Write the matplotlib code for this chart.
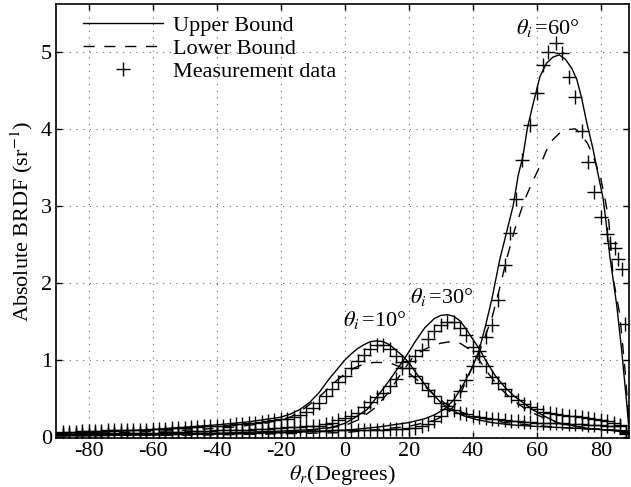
import matplotlib
matplotlib.use("Agg")
import matplotlib.pyplot as plt

plt.rcParams['font.family'] = ['Liberation Serif', 'DejaVu Serif']
plt.rcParams['mathtext.fontset'] = 'stix'
plt.rcParams['font.size'] = 16

# ---------------- theta_i = 10 deg ----------------
x_up10 = [-90, -80, -70, -60, -50, -40, -30, -25, -20, -17, -14, -11, -8, -5, -2, 0, 2, 4, 6, 8,
          10, 12, 14, 16, 18, 20, 22, 24, 26, 28, 30, 32, 34, 37, 41, 46, 52, 60, 70, 80, 86, 89]
y_up10 = [0.05, 0.06, 0.08, 0.10, 0.13, 0.16, 0.20, 0.23, 0.26, 0.30, 0.36, 0.45, 0.58, 0.75, 0.90, 1.00,
          1.08, 1.15, 1.20, 1.24, 1.25, 1.24, 1.20, 1.13, 1.06, 0.97, 0.85, 0.74, 0.63, 0.54, 0.45, 0.39,
          0.34, 0.28, 0.23, 0.19, 0.16, 0.14, 0.12, 0.10, 0.09, 0.07]
x_lo10 = [-90, -70, -50, -35, -25, -17, -12, -7, -3, 0, 3, 6, 9, 12, 15, 18, 21, 25, 28, 31, 35, 40,
          50, 60, 70, 80, 89]
y_lo10 = [0.04, 0.06, 0.09, 0.13, 0.18, 0.26, 0.39, 0.56, 0.72, 0.82, 0.90, 0.95, 0.97, 0.97, 0.95,
          0.90, 0.80, 0.66, 0.55, 0.45, 0.35, 0.27, 0.19, 0.15, 0.12, 0.10, 0.08]
x_ms10 = list(range(-88, 90, 2))
y_ms10 = [0.07, 0.07, 0.07, 0.08, 0.08, 0.08, 0.08, 0.09, 0.09, 0.09, 0.09, 0.10, 0.10, 0.10, 0.11,
          0.11, 0.11, 0.12, 0.12, 0.12, 0.13, 0.13, 0.14, 0.14, 0.15, 0.15, 0.16, 0.17, 0.17, 0.18,
          0.19, 0.20, 0.21, 0.22, 0.23, 0.24, 0.26, 0.29, 0.33, 0.38, 0.45, 0.53, 0.62, 0.72, 0.80,
          0.90, 0.99, 1.07, 1.14, 1.19, 1.19, 1.14, 1.06, 0.98, 0.90, 0.80, 0.70, 0.61, 0.53, 0.45,
          0.40, 0.35, 0.32, 0.30, 0.28, 0.26, 0.25, 0.24, 0.23, 0.22, 0.21, 0.21, 0.20, 0.20, 0.19,
          0.19, 0.18, 0.18, 0.18, 0.17, 0.17, 0.17, 0.16, 0.16, 0.16, 0.15, 0.15, 0.14, 0.04]

# ---------------- theta_i = 30 deg ----------------
x_up30 = [-90, -60, -40, -20, -10, -4, 0, 3, 7, 10, 14, 17, 19, 22, 25, 28, 30, 32, 34, 36, 38, 40,
          42, 44, 47, 50, 53, 56, 59, 63, 67, 75, 85, 89]
y_up30 = [0.03, 0.04, 0.05, 0.08, 0.10, 0.13, 0.18, 0.25, 0.36, 0.52, 0.74, 0.92, 1.04, 1.24, 1.42,
          1.54, 1.58, 1.59, 1.57, 1.51, 1.40, 1.27, 1.15, 1.00, 0.80, 0.65, 0.53, 0.44, 0.35, 0.26,
          0.18, 0.12, 0.08, 0.05]
x_lo30 = [-90, -60, -40, -20, -10, 0, 5, 10, 14, 18, 21, 24, 27, 30, 33, 36, 39, 42, 45, 48, 52,
          56, 60, 63, 67, 72, 80, 89]
y_lo30 = [0.02, 0.03, 0.04, 0.06, 0.09, 0.15, 0.24, 0.40, 0.60, 0.85, 1.02, 1.12, 1.18, 1.22, 1.24,
          1.22, 1.14, 1.00, 0.82, 0.66, 0.50, 0.38, 0.29, 0.24, 0.18, 0.14, 0.10, 0.07]
x_ms30 = list(range(-88, 90, 2))
y_ms30 = [0.04, 0.04, 0.04, 0.04, 0.04, 0.05, 0.05, 0.05, 0.05, 0.05, 0.05, 0.06, 0.06, 0.06, 0.06,
          0.06, 0.07, 0.07, 0.07, 0.07, 0.08, 0.08, 0.08, 0.08, 0.09, 0.09, 0.09, 0.10, 0.10, 0.10,
          0.11, 0.11, 0.11, 0.12, 0.12, 0.13, 0.13, 0.13, 0.14, 0.14, 0.15, 0.17, 0.19, 0.22, 0.25,
          0.28, 0.32, 0.39, 0.46, 0.52, 0.58, 0.67, 0.76, 0.90, 0.99, 1.06, 1.13, 1.28, 1.38, 1.45,
          1.50, 1.50, 1.42, 1.32, 1.17, 1.05, 0.92, 0.78, 0.70, 0.62, 0.53, 0.48, 0.43, 0.39, 0.36,
          0.33, 0.31, 0.30, 0.29, 0.28, 0.27, 0.26, 0.25, 0.24, 0.22, 0.21, 0.19, 0.16, 0.07]

# ---------------- theta_i = 60 deg ----------------
x_up60 = [-90, -60, -40, -20, 0, 10, 20, 25, 28, 31, 34, 37, 40, 42, 44, 46, 48.4, 50.5, 52.6, 54.2,
          55.7, 57, 59, 61, 63, 65, 67, 69, 71, 72.5, 74, 75.5, 77.5, 79.2, 80.7, 81.6, 82.8, 84,
          85, 86.5, 88, 88.8]
y_up60 = [0.02, 0.03, 0.04, 0.06, 0.09, 0.13, 0.19, 0.24, 0.29, 0.36, 0.48, 0.68, 0.92, 1.13, 1.45,
          1.80, 2.30, 2.65, 3.00, 3.40, 3.65, 4.00, 4.35, 4.68, 4.85, 4.93, 4.96, 4.90, 4.78, 4.64,
          4.40, 4.10, 3.75, 3.40, 3.10, 2.80, 2.35, 2.00, 1.70, 1.13, 0.48, 0.10]
x_lo60 = [-90, -40, 0, 20, 28, 32, 35, 38, 42, 46, 48.5, 50.5, 53, 56, 58.5, 61, 63, 65, 67, 69.5,
          72, 74, 76, 78, 80, 81.5, 82.5, 83.9, 85.9, 87.5, 88.5, 88.8]
y_lo60 = [0.02, 0.03, 0.06, 0.14, 0.22, 0.30, 0.45, 0.74, 1.10, 1.55, 1.95, 2.30, 2.68, 3.06, 3.30,
          3.52, 3.72, 3.86, 3.94, 3.99, 4.00, 3.92, 3.80, 3.60, 3.35, 3.05, 2.80, 2.05, 1.60, 0.90,
          0.35, 0.20]
x_ms60 = list(range(-88, 52, 2)) + [51.5, 53.5, 55.5, 58, 60, 62, 63.5, 66, 68, 70, 72, 74, 76, 78,
                                    80, 82, 83, 84.5, 85.5, 86.5, 87.5, 88]
y_ms60 = ([0.03] * 7 + [0.04] * 9 + [0.05] * 8 + [0.06] * 7 + [0.07] * 6 + [0.08] * 5 + [0.09] * 3
          + [0.09, 0.09, 0.10, 0.10, 0.10, 0.10, 0.11, 0.11, 0.11, 0.12]
          + [0.12, 0.14, 0.17, 0.21, 0.28, 0.37, 0.48, 0.60, 0.74, 0.92, 1.12, 1.30, 1.45, 1.78, 2.23]
          + [2.65, 3.09, 3.60, 4.05, 4.47, 4.83, 5.00, 5.12, 4.98, 4.67, 4.42, 3.97, 3.57, 3.18,
             2.86, 2.64, 2.52, 2.45, 2.31, 2.18, 1.47, 0.05])

x_ticks = [-80, -60, -40, -20, 0, 20, 40, 60, 80]
y_ticks = [0, 1, 2, 3, 4, 5]

fig = plt.figure(figsize=(6.31, 4.87), dpi=100)
ax = fig.add_axes([56 / 631, 49 / 487, 573 / 631, 434 / 487])

dash = (8, 7)
lw = 1.0
mk = dict(ls='none', marker='+', ms=10, mew=1.0, color='black')

ax.plot(x_up10, y_up10, color='black', lw=lw, label='Upper Bound')
ax.plot(x_lo10, y_lo10, color='black', lw=lw, dashes=dash, label='Lower Bound')
ax.plot(x_ms10, y_ms10, label='Measurement data', **mk)

ax.plot(x_up30, y_up30, color='black', lw=lw)
ax.plot(x_lo30, y_lo30, color='black', lw=lw, dashes=dash)
ax.plot(x_ms30, y_ms30, **mk)

ax.plot(x_up60, y_up60, color='black', lw=lw)
ax.plot(x_lo60, y_lo60, color='black', lw=lw, dashes=dash)
ax.plot(x_ms60, y_ms60, **mk)

ax.text(9.4, 1.52, r'$\theta_i\,$' + '=10°', ha='center', va='center', fontsize=16)
ax.text(30.2, 1.82, r'$\theta_i\,$' + '=30°', ha='center', va='center', fontsize=16)
ax.text(63.4, 5.31, r'$\theta_i\,$' + '=60°', ha='center', va='center', fontsize=16)

ax.set_xlim(-90.2, 88.8)
ax.set_ylim(-0.01, 5.62)
ax.set_xticks(x_ticks)
ax.set_yticks(y_ticks)
ax.set_xticklabels([str(t) for t in x_ticks])
ax.tick_params(direction='in', top=True, right=True, length=4, width=1, labelsize=16, pad=3)
ax.grid(True, color='black', linestyle=(0, (1, 5)), linewidth=0.8, alpha=0.6)
for s in ax.spines.values():
    s.set_linewidth(1.2)

ax.set_xlabel(r'$\theta_r$' + '(Degrees)', fontsize=16, labelpad=1)
ax.set_ylabel('Absolute BRDF (sr$^{-1}$)', fontsize=16, labelpad=4)

leg = ax.legend(loc='upper left', bbox_to_anchor=(0.027, 1.0), frameon=False, fontsize=16,
                handlelength=3.6, handletextpad=0.45, labelspacing=0.12, borderpad=0.2,
                borderaxespad=0.3)

fig.savefig('out.png', dpi=100)
